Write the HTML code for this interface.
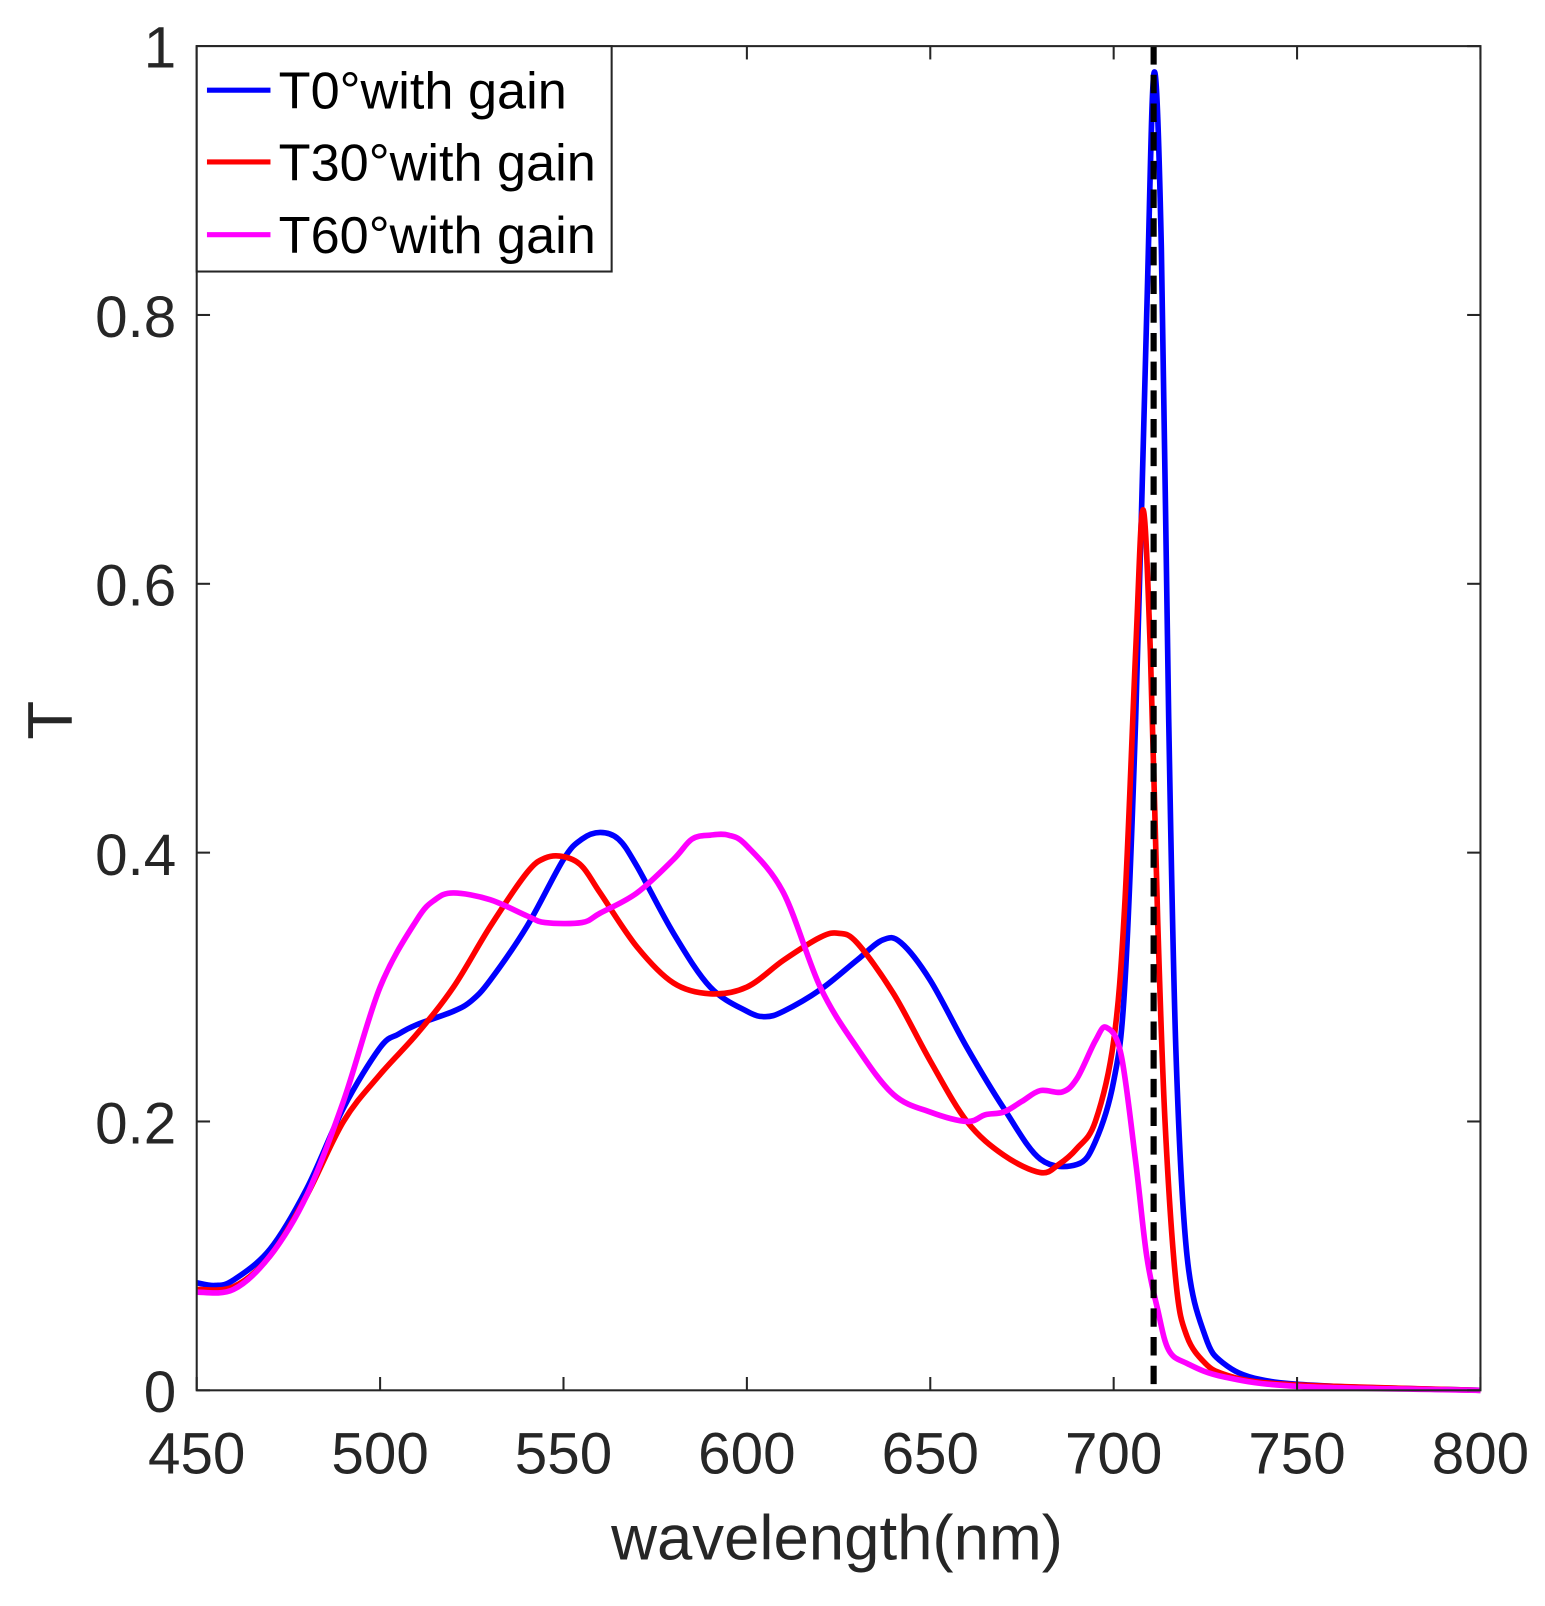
<!DOCTYPE html>
<html><head><meta charset="utf-8"><style>
html,body{margin:0;padding:0;background:#fff;overflow:hidden;}
svg{display:block;font-family:"Liberation Sans",Arial,sans-serif;}
</style></head><body>
<svg id="s" width="1545" height="1606" viewBox="0 0 1508 1567.5" xmlns="http://www.w3.org/2000/svg">
<rect width="1508" height="1567.5" fill="#fff"/>
<g id="curves"></g>
<line x1="1126" y1="45" x2="1126" y2="1357" stroke="#000" stroke-width="6" stroke-dasharray="18,10"/>
<rect x="192" y="45" width="1253" height="1312" fill="none" stroke="#262626" stroke-width="2"/>
<g id="ticks" stroke="#262626" stroke-width="2"></g>
<g font-size="57" fill="#262626" text-anchor="middle">
<text x="192" y="1438">450</text><text x="371" y="1438">500</text><text x="550" y="1438">550</text>
<text x="729" y="1438">600</text><text x="908" y="1438">650</text><text x="1087" y="1438">700</text>
<text x="1266" y="1438">750</text><text x="1445" y="1438">800</text>
</g>
<g font-size="57" fill="#262626" text-anchor="end">
<text x="172" y="1378">0</text><text x="172" y="1116">0.2</text><text x="172" y="854">0.4</text>
<text x="172" y="591">0.6</text><text x="172" y="329">0.8</text><text x="172" y="66">1</text>
</g>
<text x="817" y="1522" font-size="62" fill="#262626" text-anchor="middle">wavelength(nm)</text>
<text transform="translate(70,703) rotate(-90)" font-size="62" fill="#262626" text-anchor="middle">T</text>
<rect x="192" y="45" width="405" height="220" fill="#fff" stroke="#262626" stroke-width="2"/>
<line x1="202" y1="88" x2="264" y2="88" stroke="#0000ff" stroke-width="5"/>
<line x1="202" y1="158" x2="264" y2="158" stroke="#ff0000" stroke-width="5"/>
<line x1="202" y1="229" x2="264" y2="229" stroke="#ff00ff" stroke-width="5"/>
<g font-size="51" fill="#000">
<text x="272" y="106">T0°with gain</text>
<text x="272" y="176">T30°with gain</text>
<text x="272" y="247">T60°with gain</text>
</g>
</svg>
<script>
const X=w=>192+(w-450)*1253/350, Y=t=>1357-t*1312;
const blue=[[450,.08],[455,.078],[460,.082],[470,.105],[480,.15],[490,.21],[500,.255],[505,.265],[510,.272],[520,.282],[525,.29],[530,.305],[540,.345],[550,.395],[555,.41],[560,.415],[565,.41],[570,.39],[580,.34],[590,.3],[600,.282],[605,.278],[610,.282],[620,.298],[630,.32],[637,.335],[642,.333],[650,.305],[660,.255],[670,.21],[680,.172],[690,.168],[695,.185],[700,.23],[703,.3],[706,.5],[709,.8],[711,.98],[713,.85],[715,.5],[717,.25],[720,.1],[725,.04],[730,.02],[740,.008],[760,.003],[800,0]];
const red=[[450,.075],[460,.077],[470,.1],[480,.145],[490,.2],[500,.235],[510,.265],[520,.3],[530,.345],[540,.385],[545,.396],[550,.397],[555,.39],[560,.37],[570,.33],[580,.303],[590,.295],[600,.3],[610,.32],[620,.337],[625,.34],[630,.333],[640,.295],[650,.245],[660,.2],[670,.175],[680,.162],[685,.168],[690,.18],[695,.2],[700,.26],[703,.36],[706,.55],[708,.655],[710,.55],[712,.35],[714,.2],[717,.08],[720,.04],[725,.02],[730,.012],[740,.006],[760,.003],[800,0]];
const mag=[[450,.073],[460,.075],[470,.1],[480,.145],[490,.215],[500,.3],[510,.35],[515,.365],[520,.37],[530,.365],[540,.353],[545,.348],[555,.348],[560,.355],[570,.37],[580,.395],[585,.41],[590,.413],[595,.413],[600,.405],[610,.37],[620,.3],[630,.255],[640,.22],[650,.207],[660,.2],[665,.205],[670,.207],[675,.215],[680,.223],[686,.222],[690,.232],[695,.26],[698,.27],[702,.25],[706,.17],[709,.1],[712,.06],[715,.03],[720,.02],[730,.01],[750,.003],[800,0]];
function path(d){const p=d.map(([w,t])=>[X(w),Y(t)]);let s='M'+p[0][0]+','+p[0][1];
for(let i=0;i<p.length-1;i++){const a=p[Math.max(i-1,0)],b=p[i],c=p[i+1],e=p[Math.min(i+2,p.length-1)];
s+=` C${b[0]+(c[0]-a[0])/6},${b[1]+(c[1]-a[1])/6} ${c[0]-(e[0]-b[0])/6},${c[1]-(e[1]-b[1])/6} ${c[0]},${c[1]}`;}return s;}
const g=document.getElementById('curves');
[[blue,'#0000ff'],[red,'#ff0000'],[mag,'#ff00ff']].forEach(([d,c])=>{const e=document.createElementNS('http://www.w3.org/2000/svg','path');e.setAttribute('d',path(d));e.setAttribute('fill','none');e.setAttribute('stroke',c);e.setAttribute('stroke-width','5.5');e.setAttribute('stroke-linejoin','round');g.appendChild(e);});
const tk=document.getElementById('ticks');let h='';
for(let w=450;w<=800;w+=50){const x=X(w);h+=`<line x1="${x}" y1="1357" x2="${x}" y2="1344"/><line x1="${x}" y1="45" x2="${x}" y2="58"/>`;}
for(let t=0;t<=1.001;t+=0.2){const y=Y(t);h+=`<line x1="192" y1="${y}" x2="205" y2="${y}"/><line x1="1445" y1="${y}" x2="1432" y2="${y}"/>`;}
tk.innerHTML=h;
</script>
</body></html>
